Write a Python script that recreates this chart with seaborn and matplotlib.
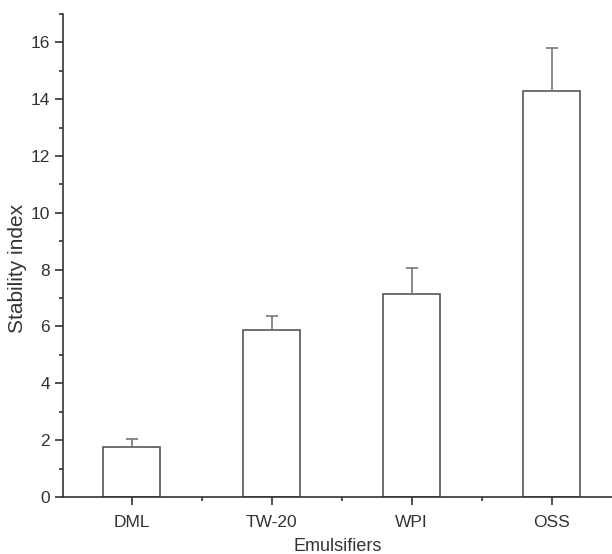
import numpy as np
import pandas as pd
import matplotlib
matplotlib.use("Agg")
import matplotlib.pyplot as plt
from matplotlib.ticker import MultipleLocator, FixedLocator
import seaborn as sns

# Dados
emulsifiers = ["DML", "TW-20", "WPI", "OSS"]
stability = [1.76, 5.88, 7.15, 14.30]
err_up = [0.28, 0.50, 0.90, 1.50]

sns.set_style("ticks")
plt.rcParams['font.family'] = ['Liberation Sans', 'DejaVu Sans']

df = pd.DataFrame({"Emulsifiers": emulsifiers, "Stability index": stability})

fig = plt.figure(figsize=(6.12, 5.54), dpi=100)
ax = fig.add_axes([0.103, 0.103, 0.897, 0.872])

line_col = "#555555"
sns.barplot(data=df, x="Emulsifiers", y="Stability index", color="white",
            edgecolor=line_col, linewidth=1.2, width=0.41, errorbar=None, ax=ax)
ax.errorbar(range(len(emulsifiers)), stability,
            yerr=[np.zeros(len(err_up)), err_up], fmt="none",
            ecolor="#777777", elinewidth=1.2, capsize=4, capthick=1.2)

ax.set_ylim(0, 17)
ax.set_xlim(-0.49, 3.43)
ax.yaxis.set_major_locator(MultipleLocator(2))
ax.yaxis.set_minor_locator(MultipleLocator(1))
ax.xaxis.set_minor_locator(FixedLocator([0.5, 1.5, 2.5]))

sns.despine(ax=ax, top=True, right=True)
for s in ["left", "bottom"]:
    ax.spines[s].set_color("#333333")
    ax.spines[s].set_linewidth(1.2)
ax.tick_params(which="major", direction="out", length=6, width=1.2,
               colors="#333333", labelsize=12.5)
ax.tick_params(axis="x", which="major", pad=7)
ax.tick_params(which="minor", direction="out", length=3, width=1.2,
               colors="#333333")
ax.set_xlabel("Emulsifiers", fontsize=13, color="#333333", labelpad=6)
ax.set_ylabel("Stability index", fontsize=15, color="#333333")
ax.yaxis.set_label_coords(-0.066, 0.474)

plt.savefig("out.png", dpi=100)
